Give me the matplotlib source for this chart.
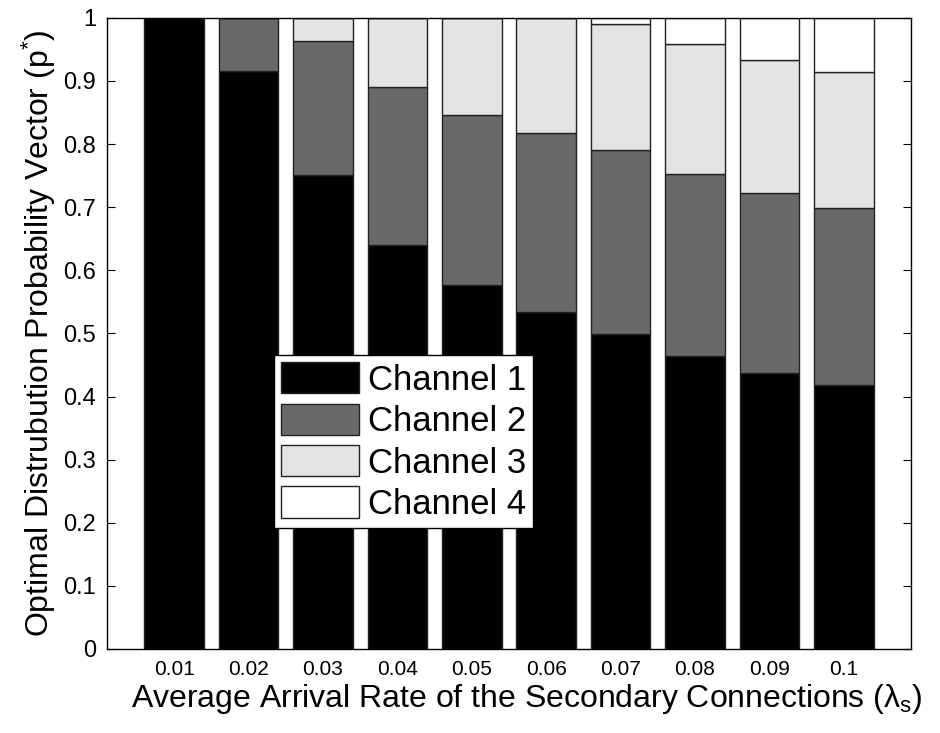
import matplotlib.pyplot as plt
import numpy as np

plt.rcParams['font.family'] = ['Liberation Sans', 'DejaVu Sans']
plt.rcParams['mathtext.fontset'] = 'custom'
plt.rcParams['mathtext.rm'] = 'Liberation Sans'
plt.rcParams['mathtext.it'] = 'Liberation Sans'
plt.rcParams['mathtext.sf'] = 'Liberation Sans'

rates = ['0.01', '0.02', '0.03', '0.04', '0.05', '0.06', '0.07', '0.08', '0.09', '0.1']
# cumulative tops
cum1 = [1.0, 0.916, 0.751, 0.640, 0.577, 0.534, 0.499, 0.465, 0.438, 0.419]
cum2 = [1.0, 1.0, 0.963, 0.890, 0.846, 0.817, 0.790, 0.752, 0.723, 0.699]
cum3 = [1.0, 1.0, 1.0, 1.0, 1.0, 1.0, 0.991, 0.958, 0.933, 0.914]
cum4 = [1.0] * 10

ch1 = np.array(cum1)
ch2 = np.array(cum2) - np.array(cum1)
ch3 = np.array(cum3) - np.array(cum2)
ch4 = np.array(cum4) - np.array(cum3)

labels = ['Channel 1', 'Channel 2', 'Channel 3', 'Channel 4']
colors = ['#000000', '#696969', '#e3e3e3', '#ffffff']

fig = plt.figure(figsize=(9.4, 7.33), dpi=100)
ax = fig.add_axes([0.114, 0.1146, 0.855, 0.861])

x = np.arange(1, len(rates) + 1)
bottom = np.zeros(len(rates))
for vals, lab, col in zip([ch1, ch2, ch3, ch4], labels, colors):
    ax.bar(x, vals, width=0.8, bottom=bottom, color=col, edgecolor='#222222',
           linewidth=1, label=lab)
    bottom += vals

ax.set_xlim(0.1, 10.9)
ax.set_ylim(0, 1)
ax.set_xticks(x)
ax.set_xticklabels(rates, fontsize=15)
ax.set_yticks(np.arange(0, 1.01, 0.1))
ax.set_yticklabels(['0', '0.1', '0.2', '0.3', '0.4', '0.5', '0.6', '0.7', '0.8', '0.9', '1'],
                   fontsize=17)
ax.tick_params(axis='x', length=0, pad=8)
ax.tick_params(axis='y', direction='in', right=True, length=6, pad=8)
for s in ax.spines.values():
    s.set_linewidth(1)

ax.set_xlabel(r'Average Arrival Rate of the Secondary Connections ($\lambda_\mathregular{s}$)',
              fontsize=23, labelpad=2)
ax.xaxis.label.set_x(0.522)
ax.set_ylabel(r'Optimal Distrubution Probability Vector (p$^\mathregular{*}$)',
              fontsize=23, labelpad=4)

leg = ax.legend(loc='lower left', bbox_to_anchor=(0.208, 0.192), fontsize=25,
                frameon=True, fancybox=False, edgecolor='black', framealpha=1,
                handlelength=2.25, handleheight=1.0, labelspacing=0.2,
                borderpad=0.2, handletextpad=0.25, borderaxespad=0)
leg.get_frame().set_linewidth(1)

plt.savefig('out.png', dpi=100)
